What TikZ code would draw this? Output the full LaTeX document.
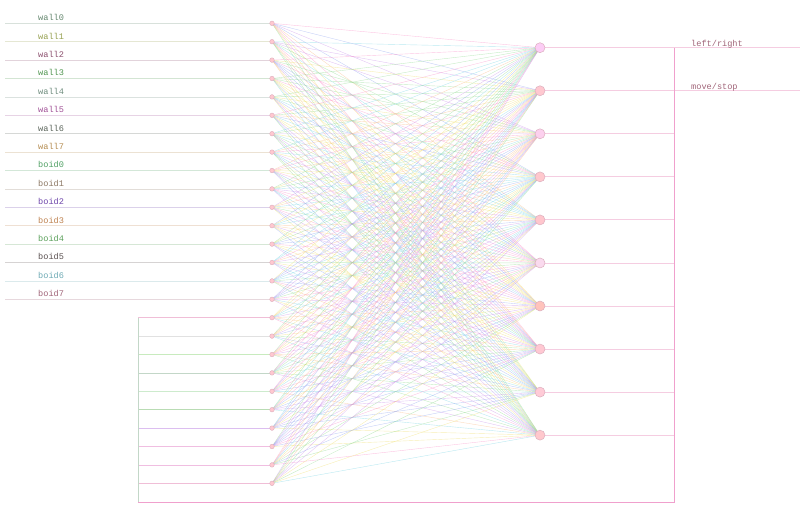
\documentclass[tikz,border=0pt]{standalone}
\usepackage{fontspec}
\setmonofont{Liberation Mono}
\usetikzlibrary{backgrounds}
% pastel edge palette
\definecolor{c0}{RGB}{250,150,205}
\definecolor{c1}{RGB}{150,220,150}
\definecolor{c2}{RGB}{150,170,240}
\definecolor{c3}{RGB}{240,225,120}
\definecolor{c4}{RGB}{205,150,235}
\definecolor{c5}{RGB}{130,215,230}
\definecolor{c6}{RGB}{250,190,140}
% label colours
\definecolor{lw0}{RGB}{100,135,110}
\definecolor{lw1}{RGB}{150,160,80}
\definecolor{lw2}{RGB}{140,80,110}
\definecolor{lw3}{RGB}{80,150,80}
\definecolor{lw4}{RGB}{110,140,125}
\definecolor{lw5}{RGB}{160,80,150}
\definecolor{lw6}{RGB}{90,100,90}
\definecolor{lw7}{RGB}{180,140,80}
\definecolor{lw8}{RGB}{80,160,100}
\definecolor{lw9}{RGB}{140,120,100}
\definecolor{lw10}{RGB}{110,70,170}
\definecolor{lw11}{RGB}{190,130,80}
\definecolor{lw12}{RGB}{90,160,90}
\definecolor{lw13}{RGB}{90,80,80}
\definecolor{lw14}{RGB}{110,170,180}
\definecolor{lw15}{RGB}{160,100,120}
% feedback line colours
\definecolor{fb0}{RGB}{240,190,215}
\definecolor{fb1}{RGB}{225,225,225}
\definecolor{fb2}{RGB}{200,235,190}
\definecolor{fb3}{RGB}{195,215,200}
\definecolor{fb4}{RGB}{205,235,205}
\definecolor{fb5}{RGB}{185,220,180}
\definecolor{fb6}{RGB}{220,190,240}
\definecolor{fb7}{RGB}{240,190,225}
\definecolor{fb8}{RGB}{240,190,225}
\definecolor{fb9}{RGB}{240,190,215}
% output node fills
\definecolor{of0}{RGB}{252,205,245}
\definecolor{of1}{RGB}{255,200,208}
\definecolor{of2}{RGB}{252,208,238}
\definecolor{of3}{RGB}{255,200,205}
\definecolor{of4}{RGB}{255,198,205}
\definecolor{of5}{RGB}{250,218,238}
\definecolor{of6}{RGB}{255,195,188}
\definecolor{of7}{RGB}{255,200,210}
\definecolor{of8}{RGB}{255,203,215}
\definecolor{of9}{RGB}{255,200,205}
\definecolor{busc}{RGB}{240,160,205}
\definecolor{outl}{RGB}{245,205,225}
\definecolor{nodeedge}{RGB}{220,175,190}
\tikzset{
  innode/.style={circle,draw=nodeedge,fill=of1,line width=0.4pt,minimum size=4.6pt,inner sep=0pt},
  outnode/.style={circle,draw=nodeedge,line width=0.5pt,minimum size=10pt,inner sep=0pt},
  edge/.style={line width=0.4pt,opacity=0.55},
  lbl/.style={font=\ttfamily\fontsize{8.6}{9}\selectfont,anchor=base west,inner sep=0pt},
  inline/.style={line width=0.8pt},
  busline/.style={draw=busc,line width=0.9pt},
  outline/.style={draw=outl,line width=0.9pt}
}
\begin{document}
\begin{tikzpicture}[x=1pt,y=-1pt]
\useasboundingbox (0,0) rectangle (800,514);
\pgfmathsetseed{4242}
% nodes
\foreach \i in {0,...,25}{
  \pgfmathsetmacro\yy{23.3+18.4*\i}
  \node[innode] (i\i) at (272,\yy) {};
}
\foreach \j in {0,...,9}{
  \pgfmathsetmacro\yy{47.7+43.05*\j}
  \node[outnode,fill=of\j] (o\j) at (540,\yy) {};
  \coordinate (b\j) at (674,\yy);
}
\coordinate (r0) at (800,47.7);
\coordinate (r1) at (800,90.75);
\coordinate (c1) at (674,502);
\coordinate (c2) at (138,502);
\begin{scope}[on background layer]
% input lines
\foreach \i in {0,...,15}{
  \pgfmathsetmacro\yy{23.3+18.4*\i}
  \coordinate (l\i) at (5,\yy);
  \draw[inline,draw=lw\i!25] (l\i) -- (i\i.center);
}
% feedback lines
\foreach \k in {0,...,9}{
  \pgfmathtruncatemacro\ii{16+\k}
  \pgfmathsetmacro\yy{23.3+18.4*\ii}
  \coordinate (f\k) at (138,\yy);
  \draw[inline,draw=fb\k] (f\k) -- (i\ii.center);
}
% fully connected edges
\foreach \i in {0,...,25}{
  \foreach \j in {0,...,9}{
    \pgfmathrandominteger{\k}{0}{6}
    \draw[edge,draw=c\k] (i\i.center) -- (o\j.center);
  }
}
% output lines and bus
\foreach \j in {2,...,9}{
  \draw[outline] (o\j.center) -- (b\j);
}
\draw[outline] (o0.center) -- (r0);
\draw[outline] (o1.center) -- (r1);
\draw[busline] (b0) -- (c1) -- (c2);
\draw[draw=fb3,line width=0.9pt] (c2) -- (f0);
\end{scope}
\foreach \i/\name in {0/wall0,1/wall1,2/wall2,3/wall3,4/wall4,5/wall5,6/wall6,7/wall7,8/boid0,9/boid1,10/boid2,11/boid3,12/boid4,13/boid5,14/boid6,15/boid7}{
  \pgfmathsetmacro\yy{23.3+18.4*\i-2.6}
  \node[lbl,text=lw\i] (t\i) at (38,\yy) {\name};
}
\node[lbl,text=lw15] (tlr) at (691,46.2) {left/right};
\node[lbl,text=lw15] (tms) at (691,89.2) {move/stop};
\end{tikzpicture}
\end{document}
